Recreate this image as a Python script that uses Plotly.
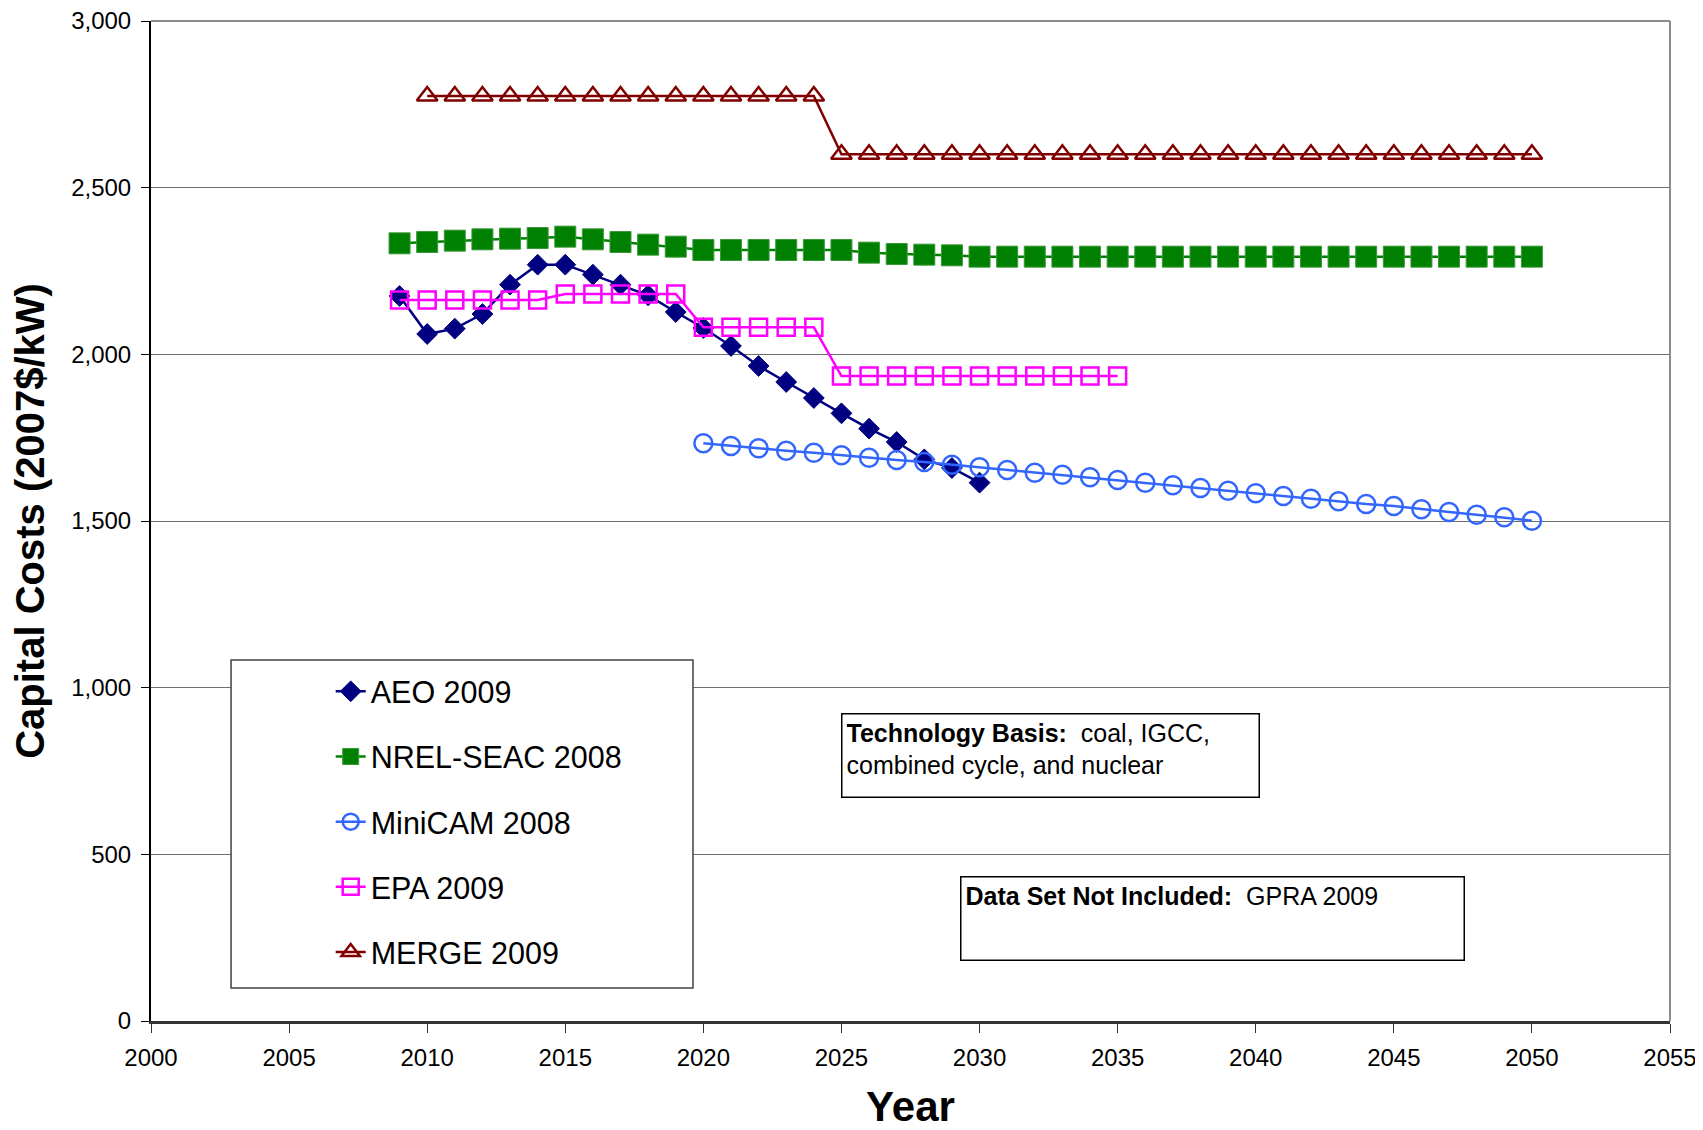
import plotly.graph_objects as go

# ---- data ----
aeo_years = list(range(2009, 2031))
aeo_vals = [2175, 2061, 2077, 2121, 2209, 2269, 2269, 2239, 2209, 2177, 2127,
            2079, 2025, 1965, 1917, 1869, 1823, 1777, 1737, 1685, 1659, 1615]

nrel_years = list(range(2009, 2051))
nrel_vals = [2333, 2337, 2341, 2345, 2347, 2349, 2353, 2345, 2337, 2329, 2323,
             2313, 2313, 2313, 2313, 2313, 2313, 2305, 2301, 2299, 2297, 2293,
             2293, 2293, 2293, 2293, 2293, 2293, 2293, 2293, 2293, 2293, 2293,
             2293, 2293, 2293, 2293, 2293, 2293, 2293, 2293, 2293]

minicam_years = list(range(2020, 2051))
minicam_vals = [1733, 1725, 1718, 1711, 1705, 1697, 1690, 1683, 1677, 1669, 1661,
                1653, 1645, 1639, 1631, 1623, 1615, 1607, 1599, 1591, 1583,
                1575, 1567, 1559, 1551, 1545, 1535, 1527, 1519, 1511, 1501]

epa_years = list(range(2009, 2036))
epa_vals = [2163, 2163, 2163, 2163, 2163, 2163, 2181, 2181, 2181, 2181, 2181,
            2081, 2081, 2081, 2081, 2081, 1935, 1935, 1935, 1935, 1935, 1935,
            1935, 1935, 1935, 1935, 1935]

merge_years = list(range(2010, 2051))
merge_vals = [2775] * 15 + [2600] * 26

x_ticks = list(range(2000, 2056, 5))
y_ticks = [0, 500, 1000, 1500, 2000, 2500, 3000]

FONT = "Liberation Sans, Arial, Helvetica, sans-serif"

fig = go.Figure()

fig.add_trace(go.Scatter(
    x=aeo_years, y=aeo_vals, name="AEO 2009", mode="lines+markers",
    legendgroup="a",
    line=dict(color="#000080", width=2.5),
    marker=dict(symbol="diamond", size=16, color="#000080",
                line=dict(color="#000080", width=1))))
fig.add_trace(go.Scatter(
    x=nrel_years, y=nrel_vals, name="NREL-SEAC 2008", mode="lines+markers",
    legendgroup="b",
    line=dict(color="#008000", width=2.5),
    marker=dict(symbol="square", size=21, color="#008000",
                line=dict(color="#3a9a3a", width=1))))
fig.add_trace(go.Scatter(
    x=minicam_years, y=minicam_vals, name="MiniCAM 2008", mode="lines+markers",
    legendgroup="c",
    line=dict(color="#3366FF", width=2.5),
    marker=dict(symbol="circle-open", size=18, color="#3366FF",
                line=dict(color="#3366FF", width=2.5))))
fig.add_trace(go.Scatter(
    x=epa_years, y=epa_vals, name="EPA 2009", mode="lines+markers",
    legendgroup="d",
    line=dict(color="#FF00FF", width=2.5),
    marker=dict(symbol="square-open", size=17, color="#FF00FF",
                line=dict(color="#FF00FF", width=2.5))))
fig.add_trace(go.Scatter(
    x=merge_years, y=merge_vals, name="MERGE 2009", mode="lines+markers",
    legendgroup="e",
    line=dict(color="#800000", width=2.5),
    marker=dict(symbol="triangle-up-open", size=18, color="#800000",
                line=dict(color="#800000", width=2.5))))

# The page body has an 8px default margin, so the figure is 8px smaller
# and the left/top margins are reduced by 8px to keep the plot area in place.
fig.update_layout(
    width=1695, height=1122,
    margin=dict(l=143, r=33, t=13, b=109, autoexpand=False),
    paper_bgcolor="white", plot_bgcolor="white",
    font=dict(family=FONT, color="black", size=24),
    showlegend=True,
    legend=dict(
        x=0.1183, y=0.356, xanchor="left", yanchor="top",
        bgcolor="rgba(0,0,0,0)", borderwidth=0,
        font=dict(family=FONT, size=30.5, color="black"),
        traceorder="grouped", tracegroupgap=22.5,
    ),
    xaxis=dict(
        range=[2000, 2055], tickmode="array", tickvals=x_ticks,
        ticktext=[str(v) for v in x_ticks],
        showgrid=False, zeroline=False,
        showline=True, linecolor="#333333", linewidth=2.5,
        ticks="outside", ticklen=9, tickcolor="#333333", tickwidth=1,
        ticklabelstandoff=4, ticklabeloverflow="allow",
        tickfont=dict(family=FONT, size=24, color="black"),
        title=dict(text="<b>Year</b>", standoff=26,
                   font=dict(family=FONT, size=42, color="black")),
        automargin=False,
    ),
    yaxis=dict(
        range=[0, 3000], tickmode="array", tickvals=y_ticks,
        tickformat=",d",
        showgrid=True, gridcolor="#6e6e6e", gridwidth=1.3,
        zeroline=False,
        showline=True, linecolor="black", linewidth=2,
        ticks="outside", ticklen=8, tickcolor="black", tickwidth=1,
        ticklabelstandoff=5, ticklabeloverflow="allow",
        tickfont=dict(family=FONT, size=24, color="black"),
        title=dict(text="<b>Capital Costs (2007$/kW)</b>", standoff=17,
                   font=dict(family=FONT, size=40, color="black")),
        automargin=False,
    ),
    shapes=[
        # top and right border of plot area
        dict(type="line", xref="paper", yref="paper", x0=0, x1=1, y0=1, y1=1,
             line=dict(color="#8c8c8c", width=2), layer="above"),
        dict(type="line", xref="paper", yref="paper", x0=1, x1=1, y0=0, y1=1,
             line=dict(color="#8c8c8c", width=2), layer="above"),
        # legend frame
        dict(type="rect", xref="paper", yref="paper",
             x0=0.0527, x1=0.3568, y0=0.033, y1=0.361,
             fillcolor="white", line=dict(color="#444444", width=1.5),
             layer="above"),
    ],
    annotations=[
        dict(xref="paper", yref="paper", x=0.4542, y=0.308,
             xanchor="left", yanchor="top", align="left", valign="top",
             width=408, height=74, borderpad=4, borderwidth=1.5,
             bordercolor="black", bgcolor="white", showarrow=False,
             font=dict(family=FONT, size=25, color="black"),
             text="<b>Technology Basis:</b>  coal, IGCC,<br>combined cycle, and nuclear"),
        dict(xref="paper", yref="paper", x=0.5328, y=0.145,
             xanchor="left", yanchor="top", align="left", valign="top",
             width=494, height=74, borderpad=4, borderwidth=1.5,
             bordercolor="black", bgcolor="white", showarrow=False,
             font=dict(family=FONT, size=25, color="black"),
             text="<b>Data Set Not Included:</b>  GPRA 2009"),
    ],
)

fig.write_html("out.html")
